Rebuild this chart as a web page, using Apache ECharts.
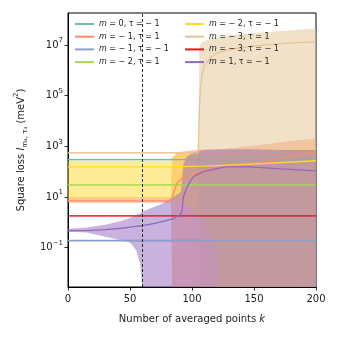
<!DOCTYPE html>
<html>
<head>
<meta charset="utf-8">
<script src="https://cdn.jsdelivr.net/npm/echarts@6/dist/echarts.min.js"></script>
<style>
html, body { margin: 0; padding: 0; background: #fff; }
#chart { width: 340px; height: 340px; }
</style>
</head>
<body>
<div id="chart"></div>
<script>
// y axis is drawn in log10 units
var yLogMin = -2.55, yLogMax = 8.26;
var yTickExp = [-1, 1, 3, 5, 7];
var xTicks = [0, 50, 100, 150, 200];
var kCut = 60;

var names = ['m0_-1', 'm-1_1', 'm-1_-1', 'm-2_1', 'm-2_-1', 'm-3_1', 'm-3_-1', 'm1_-1'];
var labels = ['{i|m} = 0, τ = − 1', '{i|m} = − 1, τ = 1', '{i|m} = − 1, τ = − 1', '{i|m} = − 2, τ = 1',
              '{i|m} = − 2, τ = − 1', '{i|m} = − 3, τ = 1', '{i|m} = − 3, τ = − 1', '{i|m} = 1, τ = − 1'];
var colors = ['#66c2a5', '#fc8d62', '#8da0cb', '#a6d854', '#ffd92f', '#e5c494', '#e41a1c', '#9467bd'];

// m=0, tau=-1
var kTeal = [0, 200];
var tealMean = [300, 300];
var tealLo = [280, 280];
var tealHi = [320, 320];

// m=-1, tau=1
var kSalmon = [0, 83, 84, 86, 88, 93, 100, 106, 127, 159, 177, 200];
var salmonMean = [7.1, 7.1, 8.9, 20, 36, 58, 79, 100, 158, 245, 390, 575];
var salmonLo = [5.9, 5.9, 0, 0, 0, 0, 0, 0, 0, 0, 0, 0];
var salmonHi = [10, 10, 316, 447, 562, 631, 708, 741, 794, 1200, 1580, 2000];

// m=-1, tau=-1
var kBlue = [0, 200];
var blueMean = [0.19, 0.19];
var blueLo = [0.17, 0.17];
var blueHi = [0.21, 0.21];

// m=-2, tau=1
var kLime = [0, 200];
var limeMean = [30, 30];
var limeLo = [28, 28];
var limeHi = [32, 32];

// m=-2, tau=-1
var kYellow = [0, 83, 84, 90, 100, 110, 115, 120, 121, 133, 160, 200];
var yellowMean = [155, 155, 155, 158, 162, 166, 170, 174, 174, 186, 214, 270];
var yellowLo = [8.5, 8.5, 7.9, 6.3, 3.2, 1.0, 0.32, 0.05, 0, 0, 0, 0];
var yellowHi = [270, 270, 400, 480, 525, 560, 575, 590, 590, 630, 710, 890];

// m=-3, tau=1
var kTan = [0, 105, 106, 107, 108, 110, 115, 120, 130, 150, 180, 200];
var tanMean = [550, 550, 3.2e4, 2.5e5, 6.3e5, 1.6e6, 3.2e6, 4.8e6, 6.6e6, 9.1e6, 1.2e7, 1.32e7];
var tanLo = [530, 530, 0, 0, 0, 0, 0, 0, 0, 0, 0, 0];
var tanHi = [600, 600, 7.9e6, 1.1e7, 1.26e7, 1.4e7, 1.8e7, 2.0e7, 2.4e7, 2.95e7, 3.8e7, 4.5e7];

// m=-3, tau=-1
var kRed = [0, 200];
var redMean = [1.8, 1.8];
var redLo = [1.7, 1.7];
var redHi = [1.9, 1.9];

// m=1, tau=-1
var kPurple = [0, 15, 30, 45, 50, 55, 58, 60, 70, 75, 80, 85, 88, 91, 92, 93, 96, 101, 109, 127, 146, 172, 200];
var purpleMean = [0.47, 0.47, 0.52, 0.60, 0.65, 0.69, 0.72, 0.74, 0.91, 1.05, 1.2, 1.41, 1.66, 2.24, 2.8, 10, 25, 63, 100, 155, 155, 129, 107];
var purpleLo = [0.43, 0.40, 0.27, 0.19, 0.16, 0.08, 0.025, 0, 0, 0, 0, 0, 0, 0, 0, 0, 0, 0, 0, 0, 0, 0, 0];
var purpleHi = [0.56, 0.63, 0.81, 1.2, 1.5, 2.0, 2.3, 2.6, 4.2, 5.2, 7.1, 10, 12.6, 15.8, 40, 200, 400, 560, 710, 760, 760, 720, 710];

var sets = [
  [kTeal, tealMean, tealLo, tealHi],
  [kSalmon, salmonMean, salmonLo, salmonHi],
  [kBlue, blueMean, blueLo, blueHi],
  [kLime, limeMean, limeLo, limeHi],
  [kYellow, yellowMean, yellowLo, yellowHi],
  [kTan, tanMean, tanLo, tanHi],
  [kRed, redMean, redLo, redHi],
  [kPurple, purpleMean, purpleLo, purpleHi]
];

function lg(v) {
  return v > 0 ? Math.max(Math.log10(v), yLogMin) : yLogMin;
}

var FONT = 'DejaVu Sans';
var series = [];

// shaded bands first (under all lines, like matplotlib)
sets.forEach(function (s, j) {
  var k = s[0], lo = s[2], hi = s[3];
  var data = k.map(function (x, i) { return [x, lg(lo[i]), lg(hi[i])]; });
  series.push({
    type: 'custom',
    name: names[j] + '_band',
    z: 1,
    silent: true,
    clip: true,
    encode: { x: 0, y: [1, 2] },
    data: data,
    renderItem: function (params, api) {
      if (params.dataIndex !== 0) return null;
      var pts = [];
      for (var i = 0; i < data.length; i++) pts.push(api.coord([data[i][0], data[i][2]]));
      for (var i = data.length - 1; i >= 0; i--) pts.push(api.coord([data[i][0], data[i][1]]));
      return { type: 'polygon', shape: { points: pts }, style: { fill: colors[j], opacity: 0.5 } };
    }
  });
});

sets.forEach(function (s, j) {
  var k = s[0], mean = s[1];
  series.push({
    type: 'line',
    name: names[j],
    z: 2,
    showSymbol: false,
    animation: false,
    color: colors[j],
    lineStyle: { width: 1.3, color: colors[j] },
    data: k.map(function (x, i) { return [x, lg(mean[i])]; })
  });
});

series[series.length - 1].markLine = {
  silent: true,
  symbol: 'none',
  label: { show: false },
  lineStyle: { color: '#000', type: [3, 2], width: 0.8 },
  data: [{ xAxis: kCut }]
};

function legendFor(list, left) {
  return {
    data: list, left: left, top: 20, orient: 'vertical', padding: 0,
    itemGap: 4.7, itemWidth: 19, itemHeight: 2, icon: 'rect',
    formatter: function (n) { return labels[names.indexOf(n)]; },
    textStyle: {
      fontFamily: FONT, fontSize: 8, color: '#222',
      rich: { i: { fontFamily: FONT, fontSize: 8, fontStyle: 'italic', color: '#222' } }
    }
  };
}

function supText(e) {
  return String(e).replace('-', '−');
}

var chart = echarts.init(document.getElementById('chart'), null, { renderer: 'canvas' });
chart.setOption({
  animation: false,
  backgroundColor: '#fff',
  grid: { left: 68, right: 24, top: 13, bottom: 53, show: true, borderColor: '#000', borderWidth: 1, backgroundColor: 'transparent' },
  legend: [legendFor(names.slice(0, 4), 75), legendFor(names.slice(4), 185)],
  xAxis: {
    type: 'value', min: 0, max: 200, interval: 50,
    name: 'Number of averaged points {i|k}',
    nameLocation: 'middle', nameGap: 27,
    nameTextStyle: { fontFamily: FONT, fontSize: 10, color: '#222', rich: { i: { fontFamily: FONT, fontSize: 10, fontStyle: 'italic', color: '#222' } } },
    axisLine: { onZero: false, lineStyle: { color: '#000', width: 1 } },
    axisTick: { length: 3.5, lineStyle: { color: '#000', width: 0.8 } },
    axisLabel: { fontFamily: FONT, fontSize: 10, color: '#222', margin: 7 },
    splitLine: { show: false }
  },
  yAxis: {
    type: 'value', min: yLogMin, max: yLogMax,
    name: 'Square loss {i|l}{s|m₄, τ₄} (meV{p|2})',
    nameLocation: 'middle', nameGap: 38, nameRotate: 90,
    nameTextStyle: {
      fontFamily: FONT, fontSize: 10, color: '#222',
      rich: {
        i: { fontFamily: FONT, fontSize: 10, fontStyle: 'italic', color: '#222' },
        s: { fontFamily: FONT, fontSize: 7, color: '#222', verticalAlign: 'bottom', lineHeight: 16 },
        p: { fontFamily: FONT, fontSize: 7, color: '#222', verticalAlign: 'top', lineHeight: 16 }
      }
    },
    axisLine: { lineStyle: { color: '#000', width: 1 } },
    axisTick: { length: 3.5, customValues: yTickExp, lineStyle: { color: '#000', width: 0.8 } },
    axisLabel: {
      customValues: yTickExp, fontFamily: FONT, fontSize: 10, color: '#222', margin: 5,
      formatter: function (v) { return '10{p|' + supText(v) + '}'; },
      rich: { p: { fontFamily: FONT, fontSize: 7, color: '#222', verticalAlign: 'top', lineHeight: 16 } }
    },
    splitLine: { show: false }
  },
  series: series
});
</script>
</body>
</html>
